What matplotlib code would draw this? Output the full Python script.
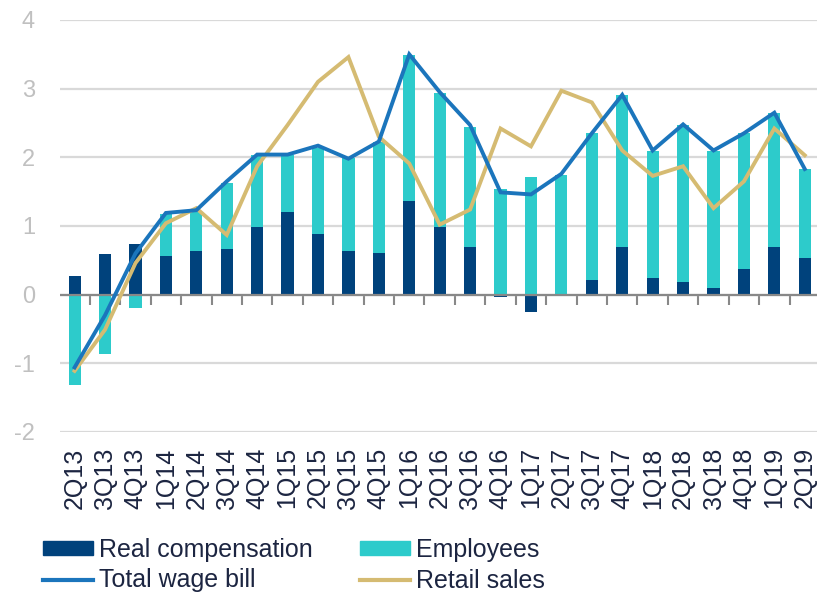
import matplotlib
matplotlib.use("Agg")
import matplotlib.pyplot as plt
import numpy as np
from matplotlib.patches import Patch
from matplotlib.lines import Line2D

plt.rcParams["font.family"] = ["Liberation Sans", "DejaVu Sans"]
plt.rcParams["axes.unicode_minus"] = False

quarters = [
    "2Q13", "3Q13", "4Q13", "1Q14", "2Q14", "3Q14", "4Q14", "1Q15", "2Q15",
    "3Q15", "4Q15", "1Q16", "2Q16", "3Q16", "4Q16", "1Q17", "2Q17", "3Q17",
    "4Q17", "1Q18", "2Q18", "3Q18", "4Q18", "1Q19", "2Q19",
]
real_comp = [
    0.27, 0.59, 0.74, 0.56, 0.64, 0.67, 0.99, 1.20, 0.88, 0.64, 0.61, 1.37,
    0.99, 0.70, -0.04, -0.25, -0.01, 0.21, 0.70, 0.24, 0.18, 0.09, 0.38, 0.70, 0.53,
]
employees = [
    -1.32, -0.86, -0.19, 0.61, 0.58, 0.96, 1.05, 0.84, 1.25, 1.35, 1.62, 2.12,
    1.95, 1.74, 1.54, 1.72, 1.75, 2.14, 2.21, 1.85, 2.29, 2.00, 1.98, 1.95, 1.30,
]
wage_bill = [
    -1.06, -0.30, 0.60, 1.19, 1.23, 1.65, 2.04, 2.04, 2.17, 1.98, 2.23, 3.50,
    2.95, 2.47, 1.49, 1.46, 1.76, 2.35, 2.91, 2.10, 2.48, 2.10, 2.35, 2.65, 1.83,
]
retail_sales = [
    -1.11, -0.51, 0.46, 1.04, 1.26, 0.87, 1.87, 2.47, 3.10, 3.46, 2.30, 1.91,
    1.02, 1.24, 2.42, 2.16, 2.97, 2.80, 2.10, 1.73, 1.87, 1.26, 1.65, 2.42, 2.03,
]

C_REAL = "#00427c"
C_EMP = "#2dcbcb"
C_WAGE = "#1b75bc"
C_RETAIL = "#d5bb72"
C_TEXT = "#1c2541"

W, H = 817, 593
fig = plt.figure(figsize=(W / 100, H / 100), dpi=100)
ax = fig.add_axes([60 / W, 1 - 432 / H, 760 / W, 412 / H])

x = np.arange(len(quarters))
rc = np.array(real_comp)
em = np.array(employees)

# stacking: positives stack upward, negatives stack downward
pos_base = np.zeros(len(x))
neg_base = np.zeros(len(x))
for vals, color in [(rc, C_REAL), (em, C_EMP)]:
    bottoms = np.where(vals >= 0, pos_base, neg_base)
    ax.bar(x, vals, bottom=bottoms, width=0.4, color=color, zorder=2)
    pos_base = pos_base + np.where(vals >= 0, vals, 0)
    neg_base = neg_base + np.where(vals < 0, vals, 0)

ax.axhline(0, color="#888888", lw=1.6, zorder=2.5)
ax.plot(x, wage_bill, color=C_WAGE, lw=2.8, zorder=4, solid_joinstyle="miter")
ax.plot(x, retail_sales, color=C_RETAIL, lw=2.8, zorder=3, solid_joinstyle="miter")

ax.set_xlim(-0.48, len(x) - 0.5)
ax.set_ylim(-2, 4)
ax.set_yticks(range(-2, 5))
ax.yaxis.grid(True, color="#d9d9d9", lw=1.6, zorder=0)
ax.set_axisbelow(True)
for s in ax.spines.values():
    s.set_visible(False)
ax.tick_params(axis="y", length=0, labelsize=17, labelcolor="#c0c0c0", pad=18)

ax.set_xticks(x)
ax.set_xticklabels(quarters, rotation=90, fontsize=18, color=C_TEXT)
ax.tick_params(axis="x", length=0, pad=11)

# boundary tick marks below the zero line
zero = ax.secondary_xaxis(1 / 3)
zero.set_xticks(np.arange(-0.5, len(x), 1.0))
zero.set_xticklabels([])
zero.tick_params(axis="x", direction="out", length=7, width=1.5, color="#888888")
for k in ["top", "left", "right", "bottom"]:
    zero.spines[k].set_visible(False)

handles = [
    Patch(color=C_REAL),
    Line2D([], [], color=C_WAGE, lw=3),
    Patch(color=C_EMP),
    Line2D([], [], color=C_RETAIL, lw=3),
]
labels = ["Real compensation", "Total wage bill", "Employees", "Retail sales"]
fig.legend(handles, labels, ncol=2, loc="lower left", bbox_to_anchor=(20 / W, -22 / H),
           frameon=False, fontsize=18, labelcolor=C_TEXT, handlelength=2.0,
           handleheight=0.45, handletextpad=0.25, columnspacing=1.9, labelspacing=0.27)

fig.savefig("out.png", dpi=100)
